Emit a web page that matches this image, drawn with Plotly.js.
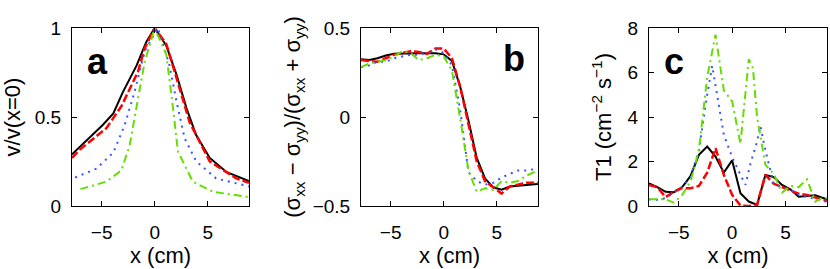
<!DOCTYPE html>
<html>
<head>
<meta charset="utf-8">
<script src="https://cdn.plot.ly/plotly-3.0.1.min.js"></script>
<style>html,body{margin:0;padding:0;background:#fff;}#chart{width:830px;height:269px;}</style>
</head>
<body>
<div id="chart"></div>
<script>
// ---------- Panel a: v / v(x=0) ----------
const aBlackX = [-7.8, -6.24, -4.9, -3.9, -3.0, -1.7, -0.8, 0, 1.1, 2.05, 3.0, 3.9, 5.2, 6.8, 8.9];
const aBlackY = [0.29, 0.38, 0.455, 0.52, 0.64, 0.79, 0.92, 1.0, 0.90, 0.74, 0.55, 0.40, 0.27, 0.19, 0.14];
const aRedX = [-7.8, -7.1, -4.56, -3.14, -1.57, -0.94, 0, 1.1, 2.36, 3.3, 5.2, 7.7, 8.9];
const aRedY = [0.27, 0.315, 0.437, 0.56, 0.755, 0.886, 1.0, 0.91, 0.66, 0.47, 0.25, 0.155, 0.13];
const aBlueX = [-7.5, -5.5, -3.9, -2.83, -1.9, -0.94, 0.3, 1.4, 2.05, 2.83, 3.93, 5.8, 8.9];
const aBlueY = [0.16, 0.21, 0.30, 0.455, 0.64, 0.87, 1.0, 0.79, 0.59, 0.38, 0.25, 0.155, 0.11];
const aGreenX = [-7.0, -4.56, -3.14, -2.36, -1.73, -0.94, 0, 1.1, 1.73, 2.2, 3.6, 5.5, 8.9];
const aGreenY = [0.095, 0.137, 0.20, 0.34, 0.55, 0.81, 1.0, 0.85, 0.55, 0.305, 0.137, 0.08, 0.05];

// ---------- shared grid for panels b and c ----------
const gridX = [-7.8, -7.02, -6.24, -5.46, -4.68, -3.9, -3.12, -2.34, -1.56, -0.78, 0, 0.78, 1.56, 2.34, 3.12, 3.9, 4.68, 5.46, 6.24, 7.02, 7.8, 8.58, 8.9];

// ---------- Panel b: (sxx - syy)/(sxx + syy) ----------
const bBlack = [0.324, 0.32, 0.33, 0.345, 0.355, 0.357, 0.358, 0.358, 0.358, 0.358, 0.352, 0.315, 0.17, -0.02, -0.23, -0.345, -0.395, -0.408, -0.39, -0.384, -0.382, -0.378, -0.377];
const bRed = [0.32, 0.315, 0.31, 0.33, 0.35, 0.36, 0.37, 0.365, 0.355, 0.385, 0.385, 0.33, 0.17, -0.04, -0.25, -0.36, -0.395, -0.43, -0.39, -0.38, -0.37, -0.37, -0.37];
const bBlue = [0.28, 0.29, 0.31, 0.31, 0.33, 0.34, 0.35, 0.35, 0.36, 0.38, 0.36, 0.29, 0.04, -0.31, -0.36, -0.38, -0.37, -0.34, -0.32, -0.30, -0.30, -0.29, -0.29];
const bGreen = [0.28, 0.30, 0.31, 0.32, 0.34, 0.37, 0.36, 0.32, 0.33, 0.35, 0.34, 0.26, -0.01, -0.30, -0.42, -0.40, -0.41, -0.36, -0.37, -0.36, -0.33, -0.31, -0.30];

// ---------- Panel c: T1 ----------
const cBlack = [1.02, 0.85, 0.64, 0.62, 0.85, 1.35, 2.3, 2.67, 2.22, 1.5, 2.05, 0.57, 0.2, 0.05, 1.39, 1.3, 0.95, 0.75, 0.42, 0.45, 0.48, 0.35, 0.3];
const cRed = [0.95, 0.85, 0.4, 0.65, 0.8, 0.8, 0.9, 1.5, 2.6, 1.4, 0.5, 0.02, 0, 0.05, 1.4, 1.0, 0.85, 0.7, 0.55, 0.5, 0.4, 0.27, 0.22];
const cBlueX = [-7.8, -7.02, -6.24, -5.46, -4.68, -3.9, -3.12, -2.34, -1.87, -0.78, 0, 0.78, 1.25, 1.72, 2.34, 2.65, 3.12, 3.9, 4.68, 5.46, 6.24, 7.02, 7.8, 8.58, 8.9];
const cBlueY = [0.3, 0.28, 0.35, 0.6, 0.85, 1.3, 2.5, 5.0, 6.3, 3.2, 2.2, 1.4, 0.95, 1.9, 2.9, 3.6, 2.5, 1.0, 0.85, 0.72, 0.5, 0.4, 0.3, 0.22, 0.2];
const cGreenX = [-7.8, -7.02, -6.24, -5.46, -4.68, -3.9, -3.12, -2.34, -1.56, -0.78, 0, 0.78, 1.56, 1.95, 2.34, 3.12, 3.9, 4.68, 5.46, 6.24, 7.02, 7.8, 8.58, 8.9];
const cGreenY = [0.3, 0.3, 0.3, 0.15, 0.5, 1.1, 2.5, 5.8, 7.7, 5.2, 4.7, 2.8, 6.6, 6.2, 4.0, 1.85, 1.45, 0.6, 0.9, 0.85, 1.2, 0.2, 0.4, 0.35];

// tick labels
const xTicks = [-5, 0, 5];
const aYTicks = [0, 0.5, 1];
const bYTicks = [-0.5, 0, 0.5];
const cYTicks = [0, 2, 4, 6, 8];
const panelLetters = ['a', 'b', 'c'];

const styles = {
  black: {color: '#000000', width: 2, dash: 'solid'},
  red:   {color: '#ff0000', width: 2.5, dash: '8px,3px'},
  blue:  {color: '#3355ff', width: 2, dash: '2px,5px'},
  green: {color: '#66dd00', width: 2, dash: '8px,4px,2px,4px'}
};

function tr(x, y, st, ax) {
  return {x: x, y: y, type: 'scatter', mode: 'lines', line: Object.assign({}, st),
          xaxis: 'x' + ax, yaxis: 'y' + ax, showlegend: false, hoverinfo: 'skip'};
}

const data = [
  tr(aBlackX, aBlackY, styles.black, ''),
  tr(aRedX, aRedY, styles.red, ''),
  tr(aBlueX, aBlueY, styles.blue, ''),
  tr(aGreenX, aGreenY, styles.green, ''),
  tr(gridX, bBlack, styles.black, '2'),
  tr(gridX, bRed, styles.red, '2'),
  tr(gridX, bBlue, styles.blue, '2'),
  tr(gridX, bGreen, styles.green, '2'),
  tr(gridX, cBlack, styles.black, '3'),
  tr(gridX, cRed, styles.red, '3'),
  tr(cBlueX, cBlueY, styles.blue, '3'),
  tr(cGreenX, cGreenY, styles.green, '3')
];

const FONT = 'Liberation Sans, Arial, Helvetica, sans-serif';
const tickFont = {family: FONT, size: 19, color: '#000'};
const titleFont = {family: FONT, size: 22, color: '#000'};

function xAx(domain, anchor) {
  return {domain: domain, anchor: anchor, range: [-7.8, 8.9], tickvals: xTicks,
    ticktext: xTicks.map(v => v < 0 ? '\u2212' + Math.abs(v) : String(v)),
    ticks: 'inside', ticklen: 5, tickwidth: 1, tickcolor: '#000', mirror: 'ticks',
    showline: true, linecolor: '#000', linewidth: 1, showgrid: false, zeroline: false,
    tickfont: tickFont, ticklabelstandoff: 9, automargin: false,
    title: {text: 'x (cm)', font: titleFont, standoff: 2}};
}
function yAx(domain, anchor, range, ticks, title, standoff) {
  return {domain: domain, anchor: anchor, range: range, tickvals: ticks,
    ticktext: ticks.map(v => v < 0 ? '\u2212' + Math.abs(v) : String(v)),
    ticks: 'inside', ticklen: 5, tickwidth: 1, tickcolor: '#000', mirror: 'ticks',
    showline: true, linecolor: '#000', linewidth: 1, showgrid: false, zeroline: false,
    tickfont: tickFont, ticklabelstandoff: 6, automargin: false,
    title: {text: title, font: titleFont, standoff: standoff}};
}

const yDom = [1 - 206 / 269, 1 - 28 / 269];
const letterFont = {family: FONT, size: 36, color: '#000'};
const layout = {
  width: 830, height: 269,
  margin: {l: 0, r: 0, t: 0, b: 0},
  paper_bgcolor: '#fff', plot_bgcolor: '#fff',
  showlegend: false,
  xaxis: xAx([72 / 830, 249 / 830], 'y'),
  yaxis: yAx(yDom, 'x', [0, 1], aYTicks, 'v/v(x=0)', 8),
  xaxis2: xAx([361 / 830, 538 / 830], 'y2'),
  yaxis2: yAx(yDom, 'x2', [-0.5, 0.5], bYTicks,
    '(\u03c3<sub>xx</sub> \u2212 \u03c3<sub>yy</sub>)/(\u03c3<sub>xx</sub> + \u03c3<sub>yy</sub>)', 5),
  xaxis3: xAx([649 / 830, 827 / 830], 'y3'),
  yaxis3: yAx(yDom, 'x3', [0, 8], cYTicks, 'T1 (cm<sup>\u22122</sup> s<sup>\u22121</sup>)', 9),
  annotations: [
    {text: '<b>' + panelLetters[0] + '</b>', xref: 'x domain', yref: 'y domain', x: 0.075, y: 0.81,
     xanchor: 'left', yanchor: 'middle', showarrow: false, font: letterFont},
    {text: '<b>' + panelLetters[1] + '</b>', xref: 'x2 domain', yref: 'y2 domain', x: 0.79, y: 0.83,
     xanchor: 'left', yanchor: 'middle', showarrow: false, font: letterFont},
    {text: '<b>' + panelLetters[2] + '</b>', xref: 'x3 domain', yref: 'y3 domain', x: 0.075, y: 0.81,
     xanchor: 'left', yanchor: 'middle', showarrow: false, font: letterFont}
  ]
};

Plotly.newPlot('chart', data, layout, {staticPlot: true, displayModeBar: false});
</script>
</body>
</html>
